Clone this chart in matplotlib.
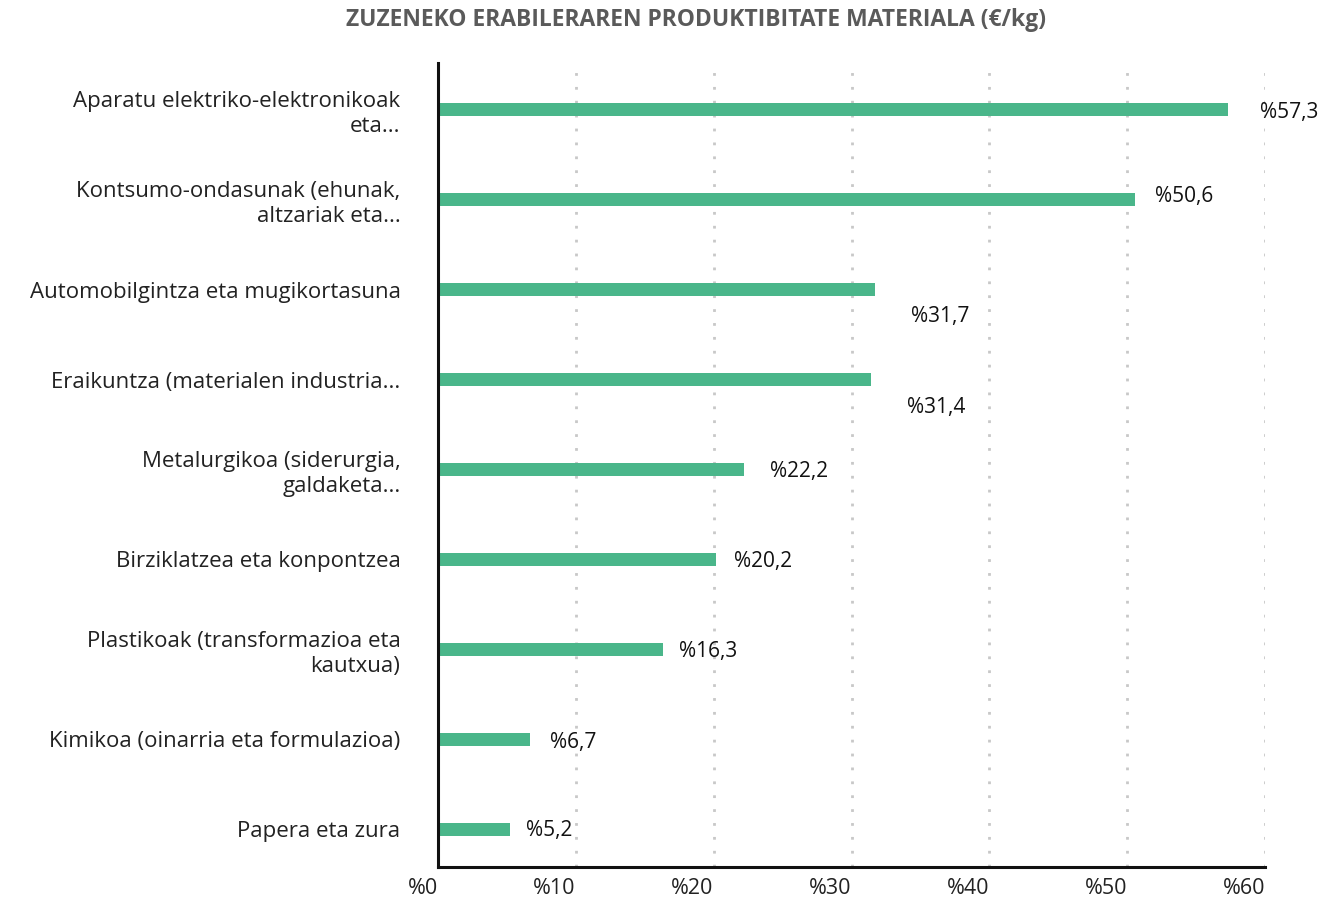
import matplotlib.pyplot as plt

categories = [
    "Aparatu elektriko-elektronikoak\neta...",
    "Kontsumo-ondasunak (ehunak,\naltzariak eta...",
    "Automobilgintza eta mugikortasuna",
    "Eraikuntza (materialen industria...",
    "Metalurgikoa (siderurgia,\ngaldaketa...",
    "Birziklatzea eta konpontzea",
    "Plastikoak (transformazioa eta\nkautxua)",
    "Kimikoa (oinarria eta formulazioa)",
    "Papera eta zura",
]
values = [57.3, 50.6, 31.7, 31.4, 22.2, 20.2, 16.3, 6.7, 5.2]
value_labels = ["%57,3", "%50,6", "%31,7", "%31,4", "%22,2", "%20,2", "%16,3", "%6,7", "%5,2"]
xticks = [0, 10, 20, 30, 40, 50, 60]
xtick_labels = ["%0", "%10", "%20", "%30", "%40", "%50", "%60"]

# label offsets in pixels (dx, dy) - some labels sit under the bar
label_offsets = [(32, -3), (20, 3), (36, -27), (36, -28), (26, -2), (18, -2), (16, -2), (20, -3), (16, -1)]

plt.rcParams['font.family'] = ['Open Sans', 'DejaVu Sans']

fig = plt.figure(figsize=(13.3, 9.01), dpi=100)
ax = fig.add_axes([438/1330, 1-867/901, (1265-438)/1330, (867-63)/901])

y = list(range(len(categories)))
ax.barh(y, values, height=0.14, color="#4AB68A")
ax.set_ylim(8.42, -0.52)
ax.set_xlim(0, 60)

for i, (v, lab) in enumerate(zip(values, value_labels)):
    dx, dy = label_offsets[i]
    ax.annotate(lab, (v, i), xytext=(dx, dy), textcoords='offset pixels',
                va='center', ha='left', fontsize=15, color='#111111')

ax.set_yticks(y)
ax.set_yticklabels(categories, fontsize=16, color='#222222', ha='right', linespacing=1.25)
ax.tick_params(axis='y', length=0, pad=27)
ax.set_xticks(xticks)
ax.set_xticklabels(xtick_labels, fontsize=15.5, color='#222222', ha='right')
ax.tick_params(axis='x', length=0, pad=8)

ax.grid(axis='x', linestyle=(0, (1, 4)), color='#C8C8C8', linewidth=2)
ax.set_axisbelow(True)
for s in ['top', 'right']:
    ax.spines[s].set_visible(False)
ax.spines['left'].set_linewidth(2.2)
ax.spines['bottom'].set_linewidth(2.2)
ax.spines['left'].set_color('#111111')
ax.spines['bottom'].set_color('#111111')

fig.text(696/1330, 1-20/901, "ZUZENEKO ERABILERAREN PRODUKTIBITATE MATERIALA (€/kg)",
         ha='center', va='center', fontsize=16.5, fontweight='bold', color='#5A5A5A')

fig.savefig("out.png", dpi=100)
